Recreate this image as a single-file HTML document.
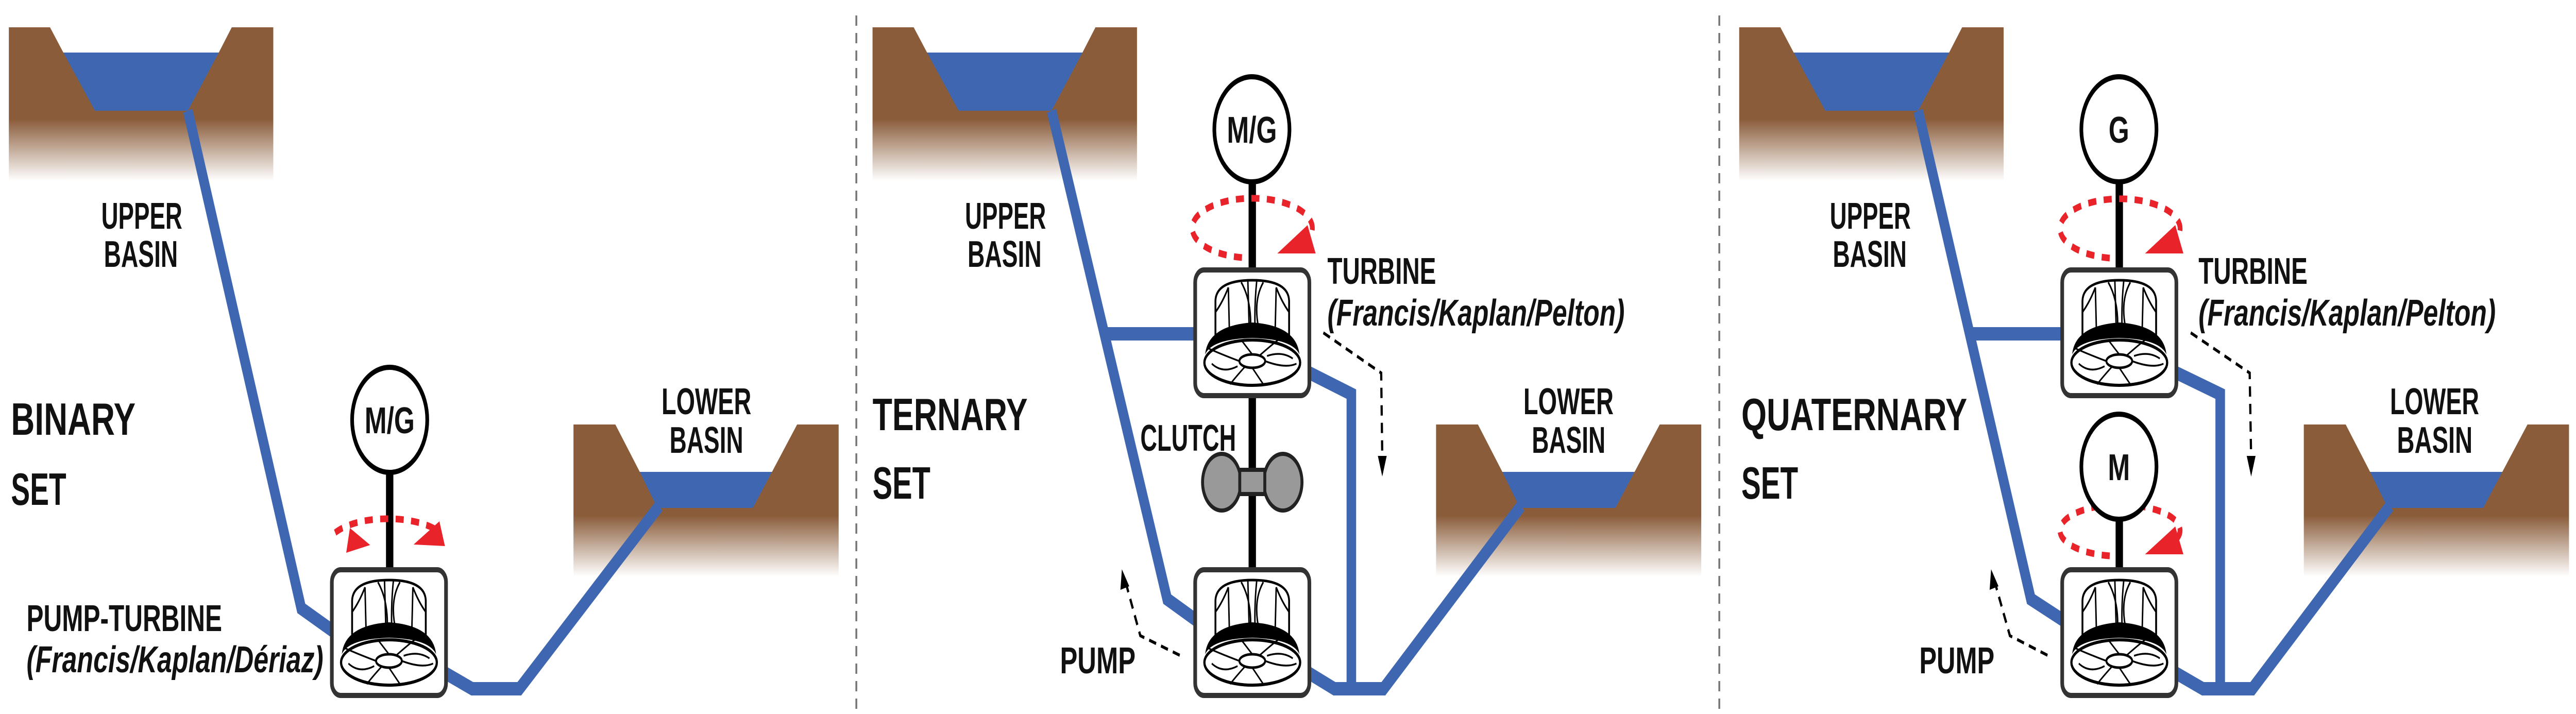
<!DOCTYPE html>
<html><head><meta charset="utf-8"><style>
html,body{margin:0;padding:0;background:#fff;width:100%;height:100%;overflow:hidden;}
svg{display:block;width:100vw;height:100vh;}
text{font-family:"Liberation Sans",sans-serif;font-weight:bold;fill:#111;}
</style></head><body>
<svg viewBox="0 0 6994 1386" preserveAspectRatio="none" xmlns="http://www.w3.org/2000/svg">
<defs>
<linearGradient id="gu" x1="0" y1="53" x2="0" y2="351" gradientUnits="userSpaceOnUse">
<stop offset="0" stop-color="#8a5c3a"/><stop offset="0.6" stop-color="#8a5c3a"/><stop offset="1" stop-color="#8a5c3a" stop-opacity="0"/></linearGradient>
<linearGradient id="gl" x1="0" y1="824" x2="0" y2="1119" gradientUnits="userSpaceOnUse">
<stop offset="0" stop-color="#8a5c3a"/><stop offset="0.6" stop-color="#8a5c3a"/><stop offset="1" stop-color="#8a5c3a" stop-opacity="0"/></linearGradient>
<g id="upper">
<rect x="24" y="53" width="718" height="298" fill="url(#gu)"/>
<polygon points="135,52 630,52 594,102 172,102" fill="#fff"/>
<polygon points="172,102 594,102 510,215 258,215" fill="#3f67b1"/>
</g>
<g id="lower">
<rect x="1557" y="824" width="720" height="295" fill="url(#gl)"/>
<polygon points="1670,823 2165,823 2096,916 1737,916" fill="#fff"/>
<polygon points="1737,916 2096,916 2044,986 1785,986" fill="#3f67b1"/>
</g>
<g id="runner">
<rect x="-155" y="-122" width="310" height="244" rx="24" fill="#fff" stroke="#333" stroke-width="10"/>
<path d="M-100,5 L-100,-62 Q-98,-102 0,-102 Q98,-102 100,-62 L100,5" fill="none" stroke="#000" stroke-width="5"/>
<path d="M-65,-88 L-62,0 M-30,-98 Q0,-60 -5,0 M-12,-100 L-8,0 M12,-100 Q5,-50 8,0 M30,-98 Q0,-60 20,0 M65,-88 L62,0 M-100,-40 Q-80,-60 -65,-88 M100,-40 Q80,-60 65,-88" fill="none" stroke="#000" stroke-width="4"/>
<path d="M-128,42 Q-120,-14 0,-20 Q120,-14 128,42 Q110,12 0,10 Q-110,12 -128,42 Z" fill="#000"/>
<ellipse cx="0" cy="58" rx="130" ry="44" fill="none" stroke="#000" stroke-width="6"/>
<ellipse cx="0" cy="55" rx="35" ry="13" fill="none" stroke="#000" stroke-width="5"/>
<path d="M-35,55 Q-90,40 -120,30 M35,55 Q90,70 120,60 M-20,66 Q-50,90 -60,100 M20,44 Q50,25 70,14 M0,42 L-30,14 M0,68 L30,100 M-110,60 Q-80,80 -40,65 M110,50 Q80,35 40,45" fill="none" stroke="#000" stroke-width="3.5"/>
</g>
</defs>

<line x1="2325" y1="30" x2="2325" y2="1386" stroke="#777" stroke-width="5" stroke-dasharray="20 14"/>
<line x1="4668" y1="30" x2="4668" y2="1386" stroke="#777" stroke-width="5" stroke-dasharray="20 14"/>

<use href="#upper"/><use href="#lower"/>
<use href="#upper" x="2345"/><use href="#lower" x="2342"/>
<use href="#upper" x="4698"/><use href="#lower" x="4698"/>

<g fill="none" stroke="#3f67b1" stroke-width="26" stroke-linejoin="miter">
<polyline points="510,215 818,1181 910,1228"/>
<polyline points="1205,1305 1282,1337 1410,1337 1790,982"/>
<polyline points="2855,215 3169,1163 3250,1205"/>
<line x1="2990" y1="648" x2="3250" y2="648"/>
<polyline points="3550,722 3669,765 3669,1337"/>
<polyline points="3550,1305 3623,1337 3756,1337 4130,982"/>
<polyline points="5208,215 5514,1163 5604,1205"/>
<line x1="5345" y1="648" x2="5604" y2="648"/>
<polyline points="5904,722 6028,765 6028,1337"/>
<polyline points="5904,1305 5981,1337 6115,1337 6489,982"/>
</g>

<g stroke="#000" stroke-width="20">
<line x1="1058" y1="910" x2="1058" y2="1110"/>
<line x1="3400" y1="350" x2="3400" y2="530"/>
<line x1="3400" y1="760" x2="3400" y2="1110"/>
<line x1="5754" y1="350" x2="5754" y2="530"/>
<line x1="5754" y1="1005" x2="5754" y2="1110"/>
</g>

<g fill="none" stroke="#e8232a" stroke-width="13" stroke-dasharray="22 20">
<path d="M910,1034 A165,54 0 0 1 1196,1034"/>
<path d="M3372,500 A163,58 0 1 1 3553,463"/>
<path d="M5728,501 A163,58 0 1 1 5909,464"/>
<path d="M5728,1079 A163,50 0 1 1 5909,1047"/>
</g>
<g fill="#e8232a">
<polygon points="940,1073 950,1025 1005,1058"/>
<polygon points="1123,1057 1193,1012 1208,1060"/>
<polygon points="3468,492 3572,492 3550,437"/>
<polygon points="5824,492 5928,492 5906,437"/>
<polygon points="5824,1076 5928,1076 5906,1022"/>
</g>

<g fill="#fff" stroke="#000" stroke-width="10">
<circle cx="1058" cy="815" r="102"/>
<circle cx="3399" cy="251" r="102"/>
<circle cx="5753" cy="251" r="102"/>
<circle cx="5753" cy="906" r="102"/>
</g>
<text x="1058" y="841" font-size="72" text-anchor="middle">M/G</text>
<text x="3399" y="277" font-size="72" text-anchor="middle">M/G</text>
<text x="5753" y="277" font-size="72" text-anchor="middle">G</text>
<text x="5753" y="932" font-size="72" text-anchor="middle">M</text>

<g fill="#999" stroke="#222" stroke-width="8">
<ellipse cx="3317" cy="936" rx="52" ry="55"/>
<ellipse cx="3483" cy="936" rx="52" ry="55"/>
<rect x="3366" y="912" width="68" height="47"/>
</g>

<use href="#runner" x="1056" y="1228"/>
<use href="#runner" x="3400" y="646"/>
<use href="#runner" x="3400" y="1228"/>
<use href="#runner" x="5754" y="646"/>
<use href="#runner" x="5754" y="1228"/>

<g fill="none" stroke="#000" stroke-width="6" stroke-dasharray="20 14">
<polyline points="3593,646 3750,724 3753,890"/>
<polyline points="3203,1272 3096,1234 3058,1135"/>
<polyline points="5948,646 6108,724 6112,890"/>
<polyline points="5559,1272 5457,1234 5418,1135"/>
</g>
<g fill="#000">
<polygon points="3741,885 3765,885 3753,925"/>
<polygon points="3042,1145 3066,1138 3046,1105"/>
<polygon points="6100,885 6124,885 6112,925"/>
<polygon points="5402,1145 5426,1138 5406,1105"/>
</g>

<g font-size="72">
<text x="275" y="444" textLength="220" lengthAdjust="spacingAndGlyphs">UPPER</text>
<text x="282" y="518" textLength="201" lengthAdjust="spacingAndGlyphs">BASIN</text>
<text x="1796" y="804" textLength="244" lengthAdjust="spacingAndGlyphs">LOWER</text>
<text x="1818" y="879" textLength="200" lengthAdjust="spacingAndGlyphs">BASIN</text>
<text x="72" y="1225" textLength="531" lengthAdjust="spacingAndGlyphs">PUMP-TURBINE</text>
<text x="72" y="1305" textLength="806" lengthAdjust="spacingAndGlyphs" font-style="italic">(Francis/Kaplan/Dériaz)</text>

<text x="2620" y="444" textLength="220" lengthAdjust="spacingAndGlyphs">UPPER</text>
<text x="2627" y="518" textLength="201" lengthAdjust="spacingAndGlyphs">BASIN</text>
<text x="4136" y="804" textLength="245" lengthAdjust="spacingAndGlyphs">LOWER</text>
<text x="4159" y="879" textLength="200" lengthAdjust="spacingAndGlyphs">BASIN</text>
<text x="3096" y="875" textLength="260" lengthAdjust="spacingAndGlyphs">CLUTCH</text>
<text x="3604" y="551" textLength="295" lengthAdjust="spacingAndGlyphs">TURBINE</text>
<text x="3604" y="632" textLength="807" lengthAdjust="spacingAndGlyphs" font-style="italic">(Francis/Kaplan/Pelton)</text>
<text x="2878" y="1307" textLength="205" lengthAdjust="spacingAndGlyphs">PUMP</text>

<text x="4968" y="444" textLength="220" lengthAdjust="spacingAndGlyphs">UPPER</text>
<text x="4976" y="518" textLength="201" lengthAdjust="spacingAndGlyphs">BASIN</text>
<text x="6489" y="804" textLength="242" lengthAdjust="spacingAndGlyphs">LOWER</text>
<text x="6508" y="879" textLength="205" lengthAdjust="spacingAndGlyphs">BASIN</text>
<text x="5969" y="551" textLength="296" lengthAdjust="spacingAndGlyphs">TURBINE</text>
<text x="5969" y="632" textLength="807" lengthAdjust="spacingAndGlyphs" font-style="italic">(Francis/Kaplan/Pelton)</text>
<text x="5211" y="1307" textLength="204" lengthAdjust="spacingAndGlyphs">PUMP</text>
</g>
<g font-size="88">
<text x="30" y="844" textLength="338" lengthAdjust="spacingAndGlyphs">BINARY</text>
<text x="30" y="980" textLength="150" lengthAdjust="spacingAndGlyphs">SET</text>
<text x="2369" y="835" textLength="421" lengthAdjust="spacingAndGlyphs">TERNARY</text>
<text x="2369" y="968" textLength="157" lengthAdjust="spacingAndGlyphs">SET</text>
<text x="4728" y="835" textLength="613" lengthAdjust="spacingAndGlyphs">QUATERNARY</text>
<text x="4728" y="968" textLength="154" lengthAdjust="spacingAndGlyphs">SET</text>
</g>
</svg>
</body></html>
